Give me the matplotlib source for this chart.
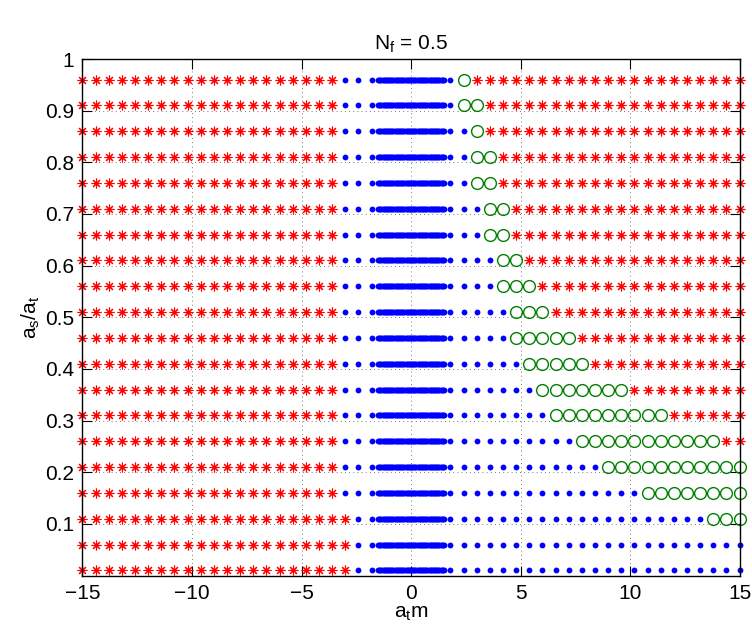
import numpy as np
import matplotlib
matplotlib.use('Agg')
import matplotlib.pyplot as plt

plt.rcParams['font.family'] = ['Liberation Sans', 'DejaVu Sans']
plt.rcParams['mathtext.fontset'] = 'custom'
plt.rcParams['mathtext.rm'] = 'Liberation Sans'
plt.rcParams['mathtext.it'] = 'Liberation Sans'

# rows of the scan (a_s/a_t values)
y_rows = [0.01, 0.06, 0.11, 0.16, 0.21, 0.26, 0.31, 0.36, 0.41, 0.46,
          0.51, 0.56, 0.61, 0.66, 0.71, 0.76, 0.81, 0.86, 0.91, 0.96]
# last a_t m of the left red region, of the blue region and of the green region
left_star_end = [-3.0, -3.0, -3.0] + [-3.6] * 17
blue_end = [15, 15, 13.2, 10.2, 8.4, 7.2, 6.0, 5.4, 4.8, 4.2,
            4.2, 3.6, 3.6, 3.0, 3.0, 2.4, 2.4, 2.4, 1.8, 1.8]
circle_end = [15, 15, 15, 15, 15, 13.8, 11.4, 9.6, 7.8, 7.2,
              6.0, 5.4, 4.8, 4.2, 4.2, 3.6, 3.6, 3.0, 3.0, 2.4]

# a_t m sample points: coarse grid plus a fine grid round zero
x_coarse = np.round(np.arange(-15, 15.01, 0.6), 2)
x_fine = np.round(np.arange(-1.5, 1.501, 0.05), 3)
x_all = np.unique(np.concatenate([x_coarse, x_fine]))

stars_x, stars_y, dots_x, dots_y, circ_x, circ_y = [], [], [], [], [], []
eps = 1e-6
for k, y in enumerate(y_rows):
    for x in x_all:
        if x <= left_star_end[k] + eps:
            stars_x.append(x); stars_y.append(y)
        elif x <= blue_end[k] + eps:
            dots_x.append(x); dots_y.append(y)
        elif x <= circle_end[k] + eps:
            circ_x.append(x); circ_y.append(y)
        else:
            stars_x.append(x); stars_y.append(y)

fig = plt.figure(figsize=(7.52, 6.27), dpi=100)
ax = fig.add_axes([0.1097, 0.0821, 0.8737, 0.8238])

ax.plot(stars_x, stars_y, linestyle='none', marker=(8, 2, 0), markersize=7,
        markeredgecolor='red', markeredgewidth=0.8, clip_on=False)
ax.plot(dots_x, dots_y, linestyle='none', marker='o', markersize=4.2,
        markerfacecolor='blue', markeredgewidth=0, clip_on=False)
ax.plot(circ_x, circ_y, linestyle='none', marker='o', markersize=8.5,
        markerfacecolor='none', markeredgecolor=(0, 0.5, 0),
        markeredgewidth=1.0, clip_on=False)

ax.set_xlim(-15, 15)
ax.set_ylim(0, 1)
ax.set_xticks([-15, -10, -5, 0, 5, 10, 15])
ax.set_xticklabels(['\u221215', '\u221210', '\u22125', '0', '5', '10', '15'])
ax.set_yticks([0.1, 0.2, 0.3, 0.4, 0.5, 0.6, 0.7, 0.8, 0.9, 1.0])
ax.set_yticklabels(['0.1', '0.2', '0.3', '0.4', '0.5', '0.6', '0.7', '0.8', '0.9', '1'])
ax.tick_params(direction='in', length=7, width=0.8, labelsize=15,
               top=True, right=True, pad=6)
ax.grid(True, color='k', linestyle=(0, (1, 4)), linewidth=0.6, alpha=0.7)
ax.set_axisbelow(True)
for s in ax.spines.values():
    s.set_linewidth(1.0)

ax.set_title(r'$\mathregular{N_f}$ = 0.5', fontsize=15, pad=7)
ax.set_xlabel(r'$\mathregular{a_tm}$', fontsize=15, labelpad=1)
ax.set_ylabel(r'$\mathregular{a_s/a_t}$', fontsize=15, labelpad=2)

fig.savefig('out.png', dpi=100)
